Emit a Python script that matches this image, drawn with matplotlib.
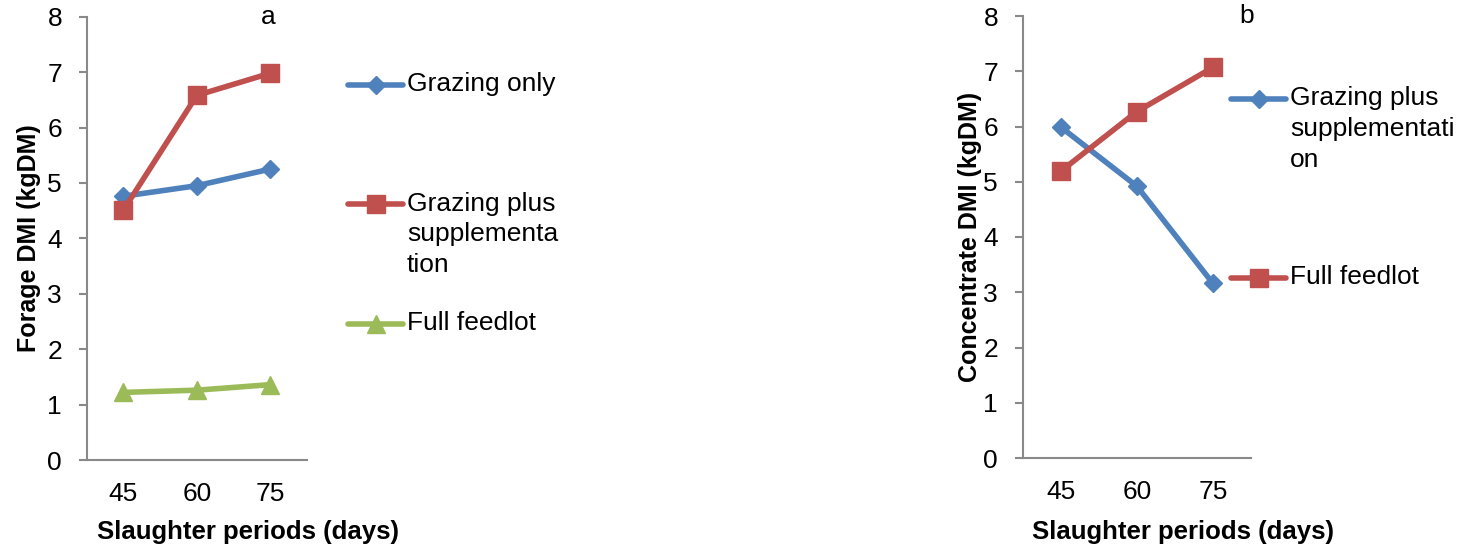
import matplotlib.pyplot as plt
from matplotlib.lines import Line2D

plt.rcParams['font.family'] = ['Liberation Sans', 'DejaVu Sans']

periods = ['45', '60', '75']

# panel a: forage DMI (kgDM)
forage_grazing_only = [4.76, 4.95, 5.25]
forage_grazing_plus = [4.51, 6.58, 6.98]
forage_feedlot = [1.22, 1.26, 1.36]

# panel b: concentrate DMI (kgDM)
conc_grazing_plus = [5.99, 4.92, 3.16]
conc_feedlot = [5.19, 6.27, 7.07]

blue = '#4F81BD'
red = '#C0504D'
green = '#9BBB59'
axis_grey = '#898989'
tick_fs = 19
leg_fs = 19
lab_fs = 18.5
lw = 4

W, H = 1465, 548
fig = plt.figure(figsize=(W / 100, H / 100), dpi=100)
ax_a = fig.add_axes([86.7 / W, 1 - 460 / H, 220.3 / W, 443.3 / H])
ax_b = fig.add_axes([1022.7 / W, 1 - 458 / H, 228.3 / W, 442 / H])


def style(ax, ylabel, ylab_x, xlab_x, xlab_y, tag, tag_x):
    ax.set_xlim(-0.5, 2.5)
    ax.set_ylim(0, 8)
    ax.set_yticks(range(0, 9))
    ax.set_xticks(range(len(periods)))
    ax.set_xticklabels(periods)
    for s in ['top', 'right']:
        ax.spines[s].set_visible(False)
    for s in ['left', 'bottom']:
        ax.spines[s].set_color(axis_grey)
        ax.spines[s].set_linewidth(1.5)
    ax.tick_params(axis='y', length=5.75, width=1.5, color=axis_grey, pad=12, labelsize=tick_fs)
    ax.tick_params(axis='x', length=0, pad=16, labelsize=tick_fs)
    ax.set_ylabel(ylabel, fontsize=18, fontweight='bold')
    ax.yaxis.set_label_coords(ylab_x, 0.5)
    ax.set_xlabel('Slaughter periods (days)', fontsize=lab_fs, fontweight='bold')
    ax.xaxis.set_label_coords(xlab_x, xlab_y)
    ax.text(tag_x, 0.999, tag, transform=ax.transAxes, fontsize=leg_fs, ha='center', va='center')


def legend_entry(x0, x1, y, color, marker, ms, label):
    fig.add_artist(Line2D([x0 / W, x1 / W], [1 - y / H, 1 - y / H], color=color, lw=lw,
                          solid_capstyle='round', transform=fig.transFigure))
    fig.add_artist(Line2D([(x0 + x1) / 2 / W], [1 - y / H], color=color, marker=marker, ms=ms,
                          transform=fig.transFigure))
    fig.text((x1 + 4) / W, 1 - (y - 12.5) / H, label, fontsize=leg_fs, ha='left', va='top',
             linespacing=1.35)


x = range(len(periods))
ax_a.plot(x, forage_grazing_only, color=blue, lw=lw, marker='D', ms=8.7, zorder=3)
ax_a.plot(x, forage_grazing_plus, color=red, lw=lw, marker='s', ms=13.5, zorder=3)
ax_a.plot(x, forage_feedlot, color=green, lw=lw, marker='^', ms=13, zorder=3)
style(ax_a, 'Forage DMI (kgDM)', -0.2075, 0.73, -0.1354, 'a', 0.823)

ax_b.plot(x, conc_grazing_plus, color=blue, lw=lw, marker='D', ms=8.7, zorder=3)
ax_b.plot(x, conc_feedlot, color=red, lw=lw, marker='s', ms=13.5, zorder=3)
style(ax_b, 'Concentrate DMI (kgDM)', -0.178, 0.70, -0.140, 'b', 0.982)

legend_entry(348, 403, 85, blue, 'D', 8.7, 'Grazing only')
legend_entry(348, 403, 204, red, 's', 13.5, 'Grazing plus\nsupplementa\ntion')
legend_entry(348, 403, 324, green, '^', 13, 'Full feedlot')

legend_entry(1231, 1286, 99, blue, 'D', 8.7, 'Grazing plus\nsupplementati\non')
legend_entry(1231, 1286, 278, red, 's', 13.5, 'Full feedlot')

fig.savefig('out.png', dpi=100)
